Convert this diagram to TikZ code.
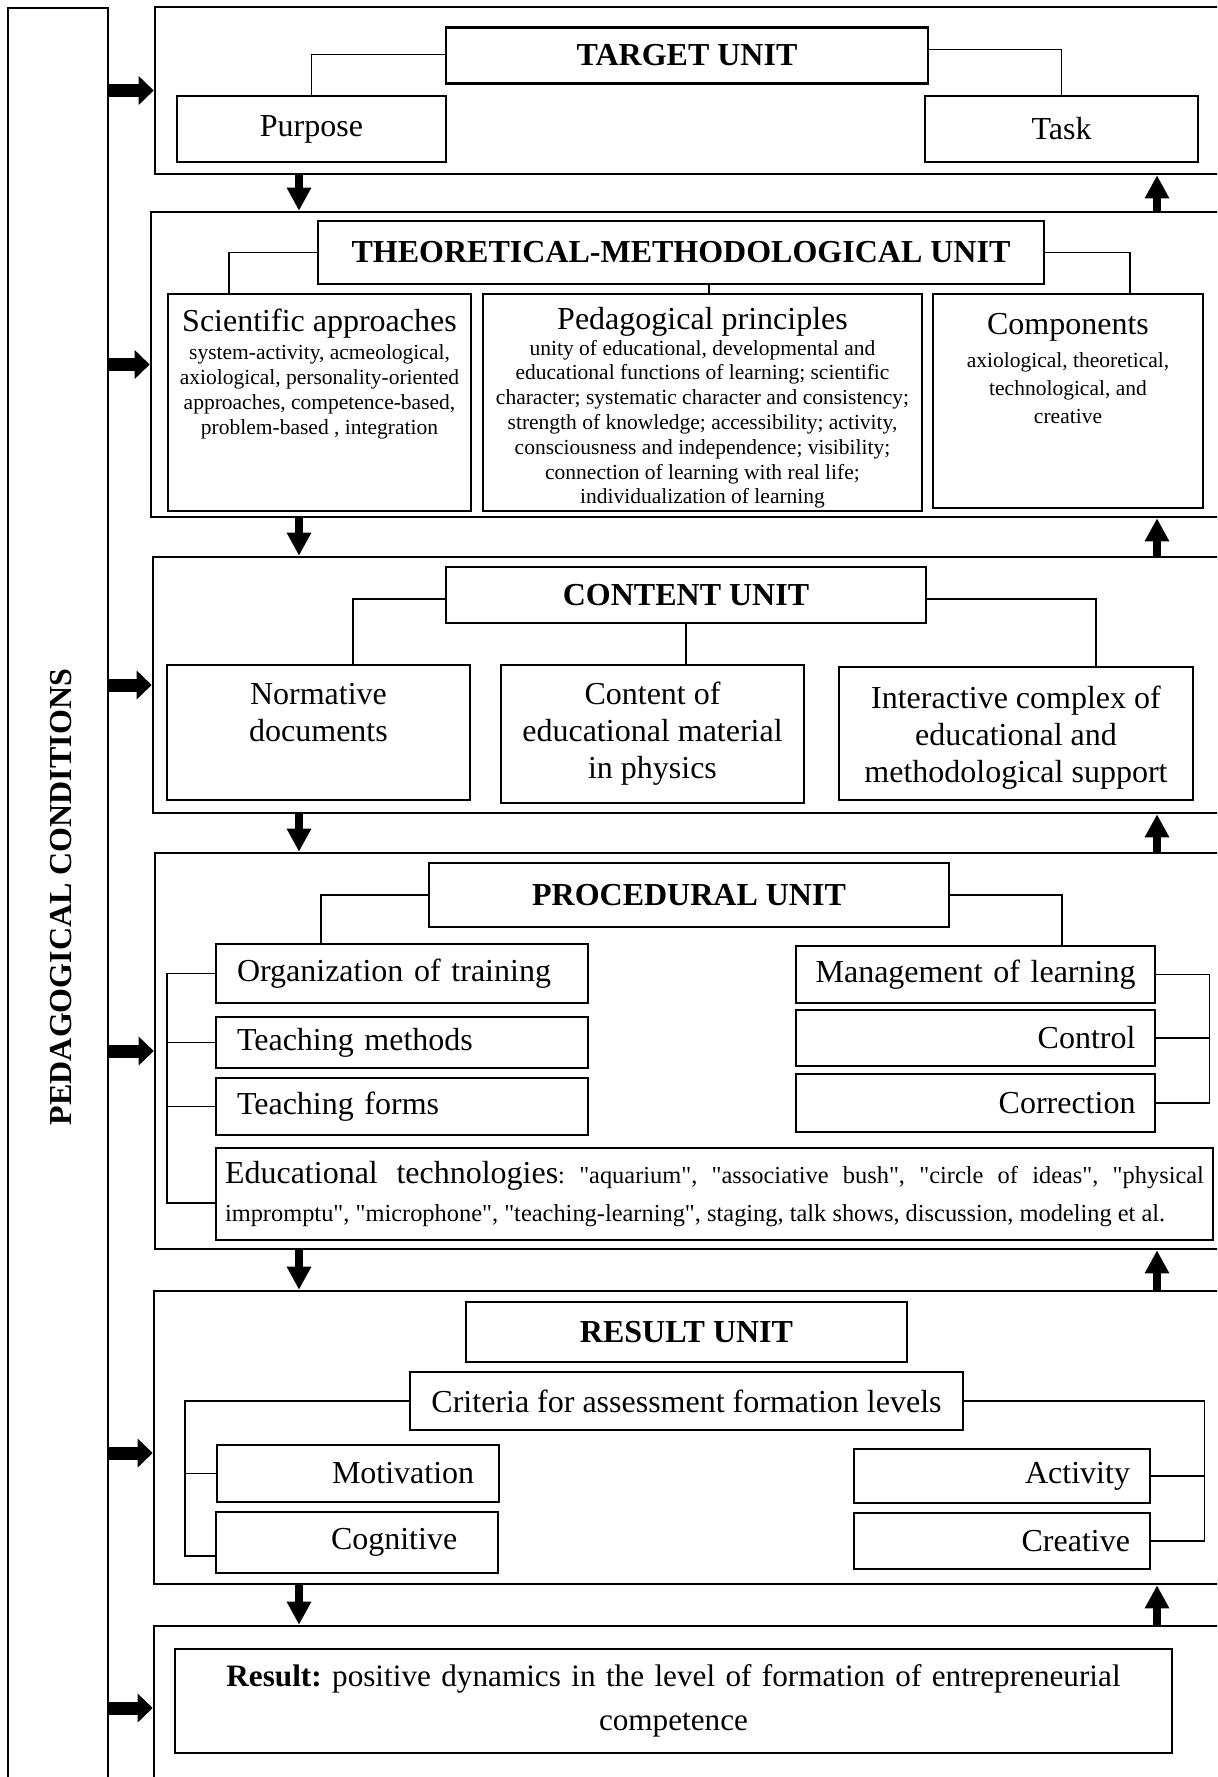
\documentclass[tikz,border=0pt]{standalone}
\usepackage{fontspec}
\setmainfont{Liberation Serif}
\usetikzlibrary{arrows.meta}

\def\unitfont{\fontsize{16}{18.7}\selectfont}
\def\notefont{\fontsize{10.75}{12.4}\selectfont}
\def\techfont{\fontsize{12.2}{18.7}\selectfont}
\def\qt{\textquotedbl}
\newcommand{\topcell}[4]{\parbox[c][#2][t]{#1}{\centering\rule{0pt}{#3}#4}}

\begin{document}
\frenchspacing
\begin{tikzpicture}[x=0.5pt,y=-0.5pt, sz/.style 2 args={minimum width=#1,minimum height=#2}]
    \tikzstyle{unit} = [draw, line width=1.3pt, inner sep=0pt]
    \tikzstyle{box} = [draw, line width=1.1pt, inner sep=0pt, font=\unitfont, align=center]
    \tikzstyle{head} = [box, font=\unitfont\bfseries]
    \tikzstyle{lbox} = [box, align=left, inner xsep=10.5pt, text width=165pt]
    \tikzstyle{rbox} = [box, align=right, inner xsep=9.75pt, text width=160pt]
    \tikzstyle{link} = [line width=0.6pt]
    \tikzstyle{harrow} = [line width=6.5pt, -{Triangle[width=14pt,length=7.5pt]}]
    \tikzstyle{varrow} = [line width=4pt, -{Triangle[width=11.5pt,length=11.5pt]}]

    \useasboundingbox (0,0) rectangle (1217,1777);
    \clip (0,0) rectangle (1217,1777);

    %%% CONDITIONS BAR
    \node[unit, sz={50pt}{889pt}] (pc) at (58,897) {};
    \node[rotate=90, font=\unitfont\bfseries] (pclabel) at ([xshift=1.5pt]pc.center) {PEDAGOGICAL CONDITIONS};

    %%% UNITS
    \node[unit, sz={542.5pt}{83.5pt}] (u1) at (697.5,90.5) {};
    \node[unit, sz={544.5pt}{152.5pt}] (u2) at (695.5,364.5) {};
    \node[unit, sz={543.5pt}{128pt}] (u3) at (696.5,685) {};
    \node[unit, sz={542.5pt}{198pt}] (u4) at (697.5,1051) {};
    \node[unit, sz={543pt}{146.5pt}] (u5) at (697,1437.5) {};
    \node[unit, sz={543pt}{82pt}] (u6) at (697,1708) {};

    %%% TARGET UNIT
    \node[head, sz={241pt}{28pt}] (tgt) at (687,55.5) {TARGET UNIT};
    \node[box, sz={134.5pt}{33pt}] (purpose) at (311.5,129) {Purpose};
    \node[box, sz={136.5pt}{33pt}] (task) at (1061.5,129) {Task};

    %%% THEORETICAL-METHODOLOGICAL UNIT
    \node[head, sz={363pt}{31.5pt}] (tm) at (681,252.5) {THEORETICAL-METHODOLOGICAL UNIT};
    \node[box] (sci) at (319.5,402.5) {\topcell{151.5pt}{108.5pt}{18.5pt}{Scientific approaches\\[2pt]\notefont
        system-activity, acmeological,\\axiological, personality-oriented\\approaches, competence-based,\\problem-based , integration}};
    \node[box] (ped) at (702.5,402.5) {\topcell{219.5pt}{108.5pt}{17.5pt}{Pedagogical principles\\[0.6pt]\notefont
        unity of educational, developmental and\\educational functions of learning; scientific\\character; systematic character and consistency;\\strength of knowledge; accessibility; activity,\\consciousness and independence; visibility;\\connection of learning with real life;\\individualization of learning}};
    \node[box] (comp) at (1068,401) {\topcell{135pt}{107pt}{20pt}{Components\\[2.5pt]\fontsize{10.75}{14}\selectfont
        axiological, theoretical,\\technological, and\\creative}};

    %%% CONTENT UNIT
    \node[head, sz={240pt}{28pt}] (cu) at (686,595) {CONTENT UNIT};
    \node[box] (norm) at (318.5,732.5) {\topcell{151.5pt}{67.5pt}{19.5pt}{Normative\\documents}};
    \node[box] (cont) at (652.5,734) {\topcell{151.5pt}{69pt}{19.5pt}{Content of\\educational material\\in physics}};
    \node[box] (inter) at (1016,733.5) {\topcell{177pt}{66.5pt}{20.5pt}{Interactive complex of\\educational and\\methodological support}};

    %%% PROCEDURAL UNIT
    \node[head, sz={260pt}{32pt}] (pu) at (689,895) {PROCEDURAL UNIT};
    \node[lbox, sz={186pt}{29.5pt}] (org) at (402,973.5) {Organization of training};
    \node[lbox, sz={186pt}{25.5pt}] (meth) at (402,1042.5) {Teaching methods};
    \node[lbox, sz={186pt}{28.5pt}] (forms) at (402,1106.5) {Teaching forms};
    \node[rbox, sz={179.5pt}{28.5pt}] (mgmt) at (975.5,974.5) {Management of learning};
    \node[rbox, sz={179.5pt}{28pt}] (ctrl) at (975.5,1038) {Control};
    \node[rbox, sz={179.5pt}{29pt}] (corr) at (975.5,1103) {Correction};
    \node[box, sz={498.5pt}{46pt}, text width=489.5pt, align=justify] (tech) at (714.5,1194) {\sloppy
        Educational technologies\techfont: \qt aquarium\qt, \qt associative bush\qt, \qt circle of ideas\qt, \qt physical\linebreak
        impromptu\qt, \qt microphone\qt, \qt teaching-learning\qt, staging, talk shows, discussion, modeling et al.};

    %%% RESULT UNIT
    \node[head, sz={220.5pt}{30pt}] (ru) at (686.5,1332) {RESULT UNIT};
    \node[box, sz={276.5pt}{29pt}] (crit) at (686.5,1401) {Criteria for assessment formation levels};
    \node[lbox, sz={141pt}{28.5pt}, inner xsep=5pt, text width=131pt] (mot) at (358,1473.5) {\hspace*{52.5pt}Motivation};
    \node[lbox, sz={141pt}{30.5pt}, inner xsep=5pt, text width=131pt] (cog) at (357,1542.5) {\hspace*{52.5pt}Cognitive};
    \node[rbox, sz={148pt}{27pt}, inner xsep=10pt, text width=128pt] (act) at (1002,1476) {Activity};
    \node[rbox, sz={148pt}{28pt}, inner xsep=10pt, text width=128pt] (cre) at (1002,1541) {Creative};

    %%% RESULT
    \node[box, sz={498.5pt}{52pt}, text width=480pt, font=\fontsize{15.6}{22}\selectfont] (res) at (673.5,1701)
        {\textbf{Result:} positive dynamics in the level of formation of entrepreneurial\\competence};

    %%% LINKS INSIDE THE UNITS
    \draw[link] ([yshift=0.5pt]tgt.west) -| (purpose.north);
    \draw[link] ([yshift=3pt]tgt.east) -| (task.north);

    \draw[link] (tm.west) -| ([xshift=-45.25pt]sci.north);
    \draw[link] (tm.east) -| ([xshift=31pt]comp.north);
    \coordinate (pm) at ([xshift=3.25pt]ped.north);
    \draw[link] (pm) -- (pm |- tm.south);

    \draw[link] ([yshift=-2pt]cu.west) -| ([xshift=17.25pt]norm.north);
    \draw[link] (cu.south) -- (cu.south |- cont.north);
    \draw[link] ([yshift=-2pt]cu.east) -| ([xshift=40pt]inter.north);

    \draw[link] (pu.west) -| ([xshift=-40.5pt]org.north);
    \draw[link] (pu.east) -| ([xshift=43.25pt]mgmt.north);
    \draw[link] (org.west) -- ++(-24pt,0pt) |- ([yshift=-4.5pt]tech.west);
    \foreach \src in {meth,forms}
        \draw[link] (\src.west) -- ++(-24pt,0pt);
    \draw[link] (mgmt.east) -- ++(26.5pt,0pt) |- (corr.east);
    \draw[link] (ctrl.east) -- ++(26.5pt,0pt);

    \draw[link] (crit.west) -| ([xshift=-15pt,yshift=-6.75pt]cog.west) -- ([yshift=-6.75pt]cog.west);
    \draw[link] (mot.west) -- ++(-15.5pt,0pt);
    \draw[link] (crit.east) -| ([xshift=26.5pt]cre.east) -- (cre.east);
    \draw[link] (act.east) -- ++(26.5pt,0pt);

    %%% ARROWS BETWEEN THE UNITS
    \coordinate (dn) at (299,0);
    \coordinate (up) at (1157,0);
    \foreach \src/\dst in {u1/u2,u2/u3,u3/u4,u4/u5,u5/u6}{
        \draw[varrow] (\src.south -| dn) -- (\dst.north -| dn);
        \draw[varrow] (\dst.north -| up) -- (\src.south -| up);
    }

    %%% ARROWS FROM THE CONDITIONS
    \coordinate (u5a) at ([yshift=-7.75pt]u5.west);
    \foreach \dst in {u1,u2,u3,u4,u5a,u6}
        \draw[harrow] (pc.east |- \dst) -- (\dst);
\end{tikzpicture}
\end{document}
